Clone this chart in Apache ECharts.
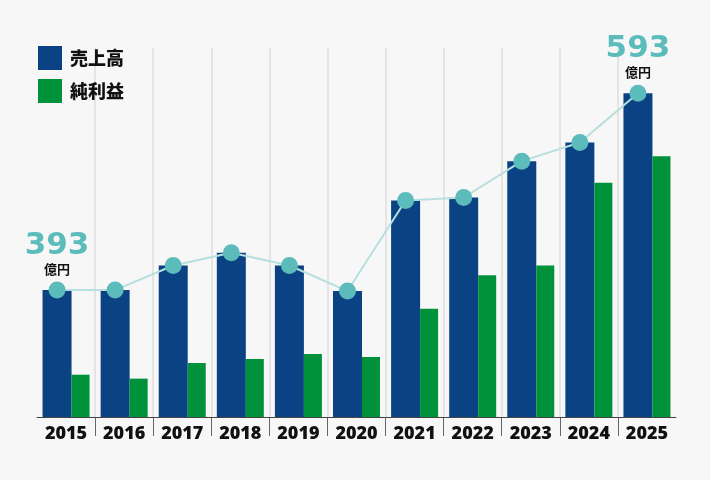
<!DOCTYPE html>
<html>
<head>
<meta charset="utf-8">
<script src="https://cdn.jsdelivr.net/npm/echarts@6/dist/echarts.min.js"></script>
<style>
  html, body { margin: 0; padding: 0; background: #f7f7f7; }
  #chart { width: 710px; height: 480px; }
</style>
</head>
<body>
<div id="chart"></div>
<script>
// ---- data ----
const YEARS = ['2015','2016','2017','2018','2019','2020','2021','2022','2023','2024','2025'];
const REVENUE = [393, 393, 418, 431, 418, 392, 484, 487, 524, 543, 593];   // 売上高 (億円)
const PROFIT = [43, 39, 55, 59, 64, 61, 110, 144, 154, 238, 265];          // 純利益 (relative scale)
const LEGEND_NAMES = ['売上高', '純利益'];
const UNIT = '億円';

// ---- style ----
const NAVY = '#0b4283';
const GREEN = '#00913b';
const TEAL = '#5bbcbb';
const LINE_C = '#b8dfdf';
const GRID_LEFT = 37, GRID_RIGHT = 34, GRID_TOP = 48, GRID_BOTTOM = 63;
const NAVY_W = 29, GREEN_W = 18;
const W = 710;
const band = (W - GRID_LEFT - GRID_RIGHT) / YEARS.length;
const shift = (GREEN_W / 2) / band;   // navy bar centre offset in category units

const lineData = REVENUE.map((v, i) => {
  const item = { value: [i - shift, v] };
  if (i === 0 || i === REVENUE.length - 1) {
    item.label = {
      show: true,
      position: 'top',
      distance: 5,
      formatter: '{num|' + v + '}\n{unit|' + UNIT + '}',
      rich: {
        num: { fontSize: 31, fontWeight: 'bold', fontFamily: 'DejaVu Sans', color: TEAL, lineHeight: 30, align: 'center' },
        unit: { fontSize: 13, fontWeight: 'bold', fontFamily: 'Noto Sans CJK JP', color: '#111', lineHeight: 16, align: 'center' }
      }
    };
  }
  return item;
});

const chart = echarts.init(document.getElementById('chart'));
chart.setOption({
  backgroundColor: '#f7f7f7',
  animation: false,
  legend: {
    data: LEGEND_NAMES,
    orient: 'vertical',
    left: 33,
    top: 41,
    itemWidth: 24,
    itemHeight: 24,
    itemGap: 9,
    icon: 'rect',
    textStyle: { fontSize: 18, fontWeight: 900, fontFamily: 'Noto Sans CJK JP', color: '#111', padding: [0, 0, 0, 3] }
  },
  grid: [
    { left: GRID_LEFT, right: GRID_RIGHT, top: GRID_TOP, bottom: GRID_BOTTOM },
    { left: GRID_LEFT, right: GRID_RIGHT, top: 480 - GRID_BOTTOM, height: 19 }
  ],
  xAxis: [
    {
      type: 'category', gridIndex: 0, data: YEARS,
      axisLine: { show: true, lineStyle: { color: '#444', width: 1 } },
      axisTick: { show: false },
      axisLabel: { fontSize: 18, fontWeight: 800, fontFamily: 'Open Sans', color: '#111', margin: 8 },
      splitLine: { show: true, showMinLine: false, showMaxLine: false, lineStyle: { color: '#e4e4e4', width: 2 } }
    },
    { type: 'value', gridIndex: 0, min: -0.5, max: YEARS.length - 0.5, show: false },
    {
      type: 'category', gridIndex: 1, data: YEARS,
      axisLine: { show: false }, axisTick: { show: false }, axisLabel: { show: false },
      splitLine: { show: true, showMinLine: false, showMaxLine: false, lineStyle: { color: '#666', width: 1 } }
    }
  ],
  yAxis: [
    { type: 'value', gridIndex: 0, min: 264, max: 639, show: false },
    { type: 'value', gridIndex: 0, min: 0, max: 375, show: false },
    { type: 'value', gridIndex: 1, show: false }
  ],
  series: [
    {
      name: LEGEND_NAMES[0], type: 'bar', xAxisIndex: 0, yAxisIndex: 0,
      data: REVENUE, barWidth: NAVY_W, barGap: '0%',
      itemStyle: { color: NAVY }
    },
    {
      name: LEGEND_NAMES[1], type: 'bar', xAxisIndex: 0, yAxisIndex: 1,
      data: PROFIT, barWidth: GREEN_W, barGap: '0%',
      itemStyle: { color: GREEN }
    },
    {
      name: 'trend', type: 'line', xAxisIndex: 1, yAxisIndex: 0,
      data: lineData, symbol: 'circle', symbolSize: 17,
      lineStyle: { color: LINE_C, width: 2 },
      itemStyle: { color: TEAL },
      z: 5
    }
  ]
});
</script>
</body>
</html>
